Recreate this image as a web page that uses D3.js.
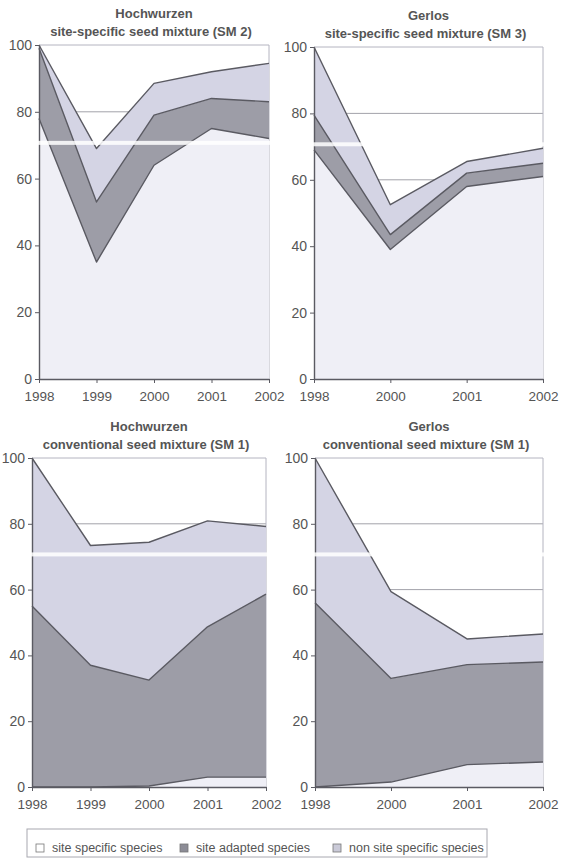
<!DOCTYPE html>
<html>
<head>
<meta charset="utf-8">
<script src="https://cdn.jsdelivr.net/npm/d3@7"></script>
<style>
  body { margin: 0; background: #fff; }
  svg { display: block; font-family: "Liberation Sans", Arial, sans-serif; }
  .tick text { fill: #555; }
  .title { fill: #555; font-weight: bold; font-size: 13px; text-anchor: middle; }
</style>
</head>
<body>
<svg id="chart" width="562" height="860"></svg>
<script>
// Species composition (% cover share) per year

const yearsHoch = ["1998", "1999", "2000", "2001", "2002"];
const yearsGerlos = ["1998", "2000", "2001", "2002"];
const yTicks = [0, 20, 40, 60, 80, 100];
const seriesNames = ["site specific species", "site adapted species", "non site specific species"];

// Hochwurzen, site-specific seed mixture (SM 2)
const hochSM2Specific = [78, 35, 64, 75, 72];
const hochSM2Adapted = [21, 18, 15, 9, 11];
const hochSM2Non = [1, 16, 9.5, 8, 11.5];

// Gerlos, site-specific seed mixture (SM 3)
const gerSM3Specific = [69, 39, 58, 61];
const gerSM3Adapted = [10.5, 4.5, 4, 4];
const gerSM3Non = [20.5, 9, 3.5, 4.5];

// Hochwurzen, conventional seed mixture (SM 1)
const hochSM1Specific = [0, 0, 0.3, 3, 3];
const hochSM1Adapted = [55, 37, 32.2, 45.7, 55.6];
const hochSM1Non = [45, 36.4, 41.9, 32.2, 20.6];

// Gerlos, conventional seed mixture (SM 1)
const gerSM1Specific = [0, 1.5, 6.8, 7.6];
const gerSM1Adapted = [56, 31.5, 30.4, 30.4];
const gerSM1Non = [44, 26.4, 7.8, 8.5];

const colors = ["#efeff6", "#9d9da7", "#d4d4e4"];
const lineColor = "#5a5a62";

const panels = [
  { title: ["Hochwurzen", "site-specific seed mixture (SM 2)"], years: yearsHoch,
    values: [hochSM2Specific, hochSM2Adapted, hochSM2Non],
    x0: 39, x1: 269, top: 45, bottom: 379, bandX: [36, 271] },
  { title: ["Gerlos", "site-specific seed mixture (SM 3)"], years: yearsGerlos,
    values: [gerSM3Specific, gerSM3Adapted, gerSM3Non],
    x0: 314, x1: 543, top: 47, bottom: 379, bandX: [311, 548] },
  { title: ["Hochwurzen", "conventional seed mixture (SM 1)"], years: yearsHoch,
    values: [hochSM1Specific, hochSM1Adapted, hochSM1Non],
    x0: 32, x1: 266, top: 458, bottom: 787, bandX: [0, 290] },
  { title: ["Gerlos", "conventional seed mixture (SM 1)"], years: yearsGerlos,
    values: [gerSM1Specific, gerSM1Adapted, gerSM1Non],
    x0: 315, x1: 543, top: 458, bottom: 787, bandX: [290, 562] }
];

const svg = d3.select("#chart");

panels.forEach(p => {
  const g = svg.append("g");

  const x = d3.scalePoint().domain(p.years).range([p.x0, p.x1]);
  const y = d3.scaleLinear().domain([0, 100]).range([p.bottom, p.top]);

  const rows = p.years.map((yr, i) => ({
    year: yr, s0: p.values[0][i], s1: p.values[1][i], s2: p.values[2][i]
  }));
  const stacked = d3.stack().keys(["s0", "s1", "s2"])(rows);

  // grid + plot border
  g.selectAll(".grid")
    .data(yTicks.filter(t => t > 0 && t < 100))
    .enter().append("line")
    .attr("x1", p.x0).attr("x2", p.x1)
    .attr("y1", d => y(d)).attr("y2", d => y(d))
    .attr("stroke", "#8a8a94").attr("stroke-width", 0.8);

  g.append("path")
    .attr("d", `M${p.x0},${y(100)}H${p.x1}V${y(0)}`)
    .attr("fill", "none").attr("stroke", "#b4b4c0").attr("stroke-width", 1);

  const area = d3.area()
    .x(d => x(d.data.year))
    .y0(d => y(d[0]))
    .y1(d => y(d[1]));

  g.selectAll(".layer")
    .data(stacked)
    .enter().append("path")
    .attr("d", area)
    .attr("fill", (d, i) => colors[i]);

  const edge = d3.line()
    .x(d => x(d.data.year))
    .y(d => y(d[1]));

  g.selectAll(".edge")
    .data(stacked)
    .enter().append("path")
    .attr("d", edge)
    .attr("fill", "none")
    .attr("stroke", lineColor)
    .attr("stroke-width", 1.4)
    .attr("stroke-linejoin", "round");

  // axes
  const yAxis = g.append("g")
    .attr("transform", `translate(${p.x0},0)`)
    .call(d3.axisLeft(y).tickValues(yTicks).tickSize(4).tickSizeOuter(0).tickPadding(3));
  yAxis.selectAll("text").attr("font-size", 14).attr("font-family", null);

  const xAxis = g.append("g")
    .attr("transform", `translate(0,${p.bottom})`)
    .call(d3.axisBottom(x).tickSize(4).tickSizeOuter(0).tickPadding(8));
  xAxis.selectAll("text").attr("font-size", 13.5).attr("font-family", null);

  [yAxis, xAxis].forEach(a => {
    a.select(".domain").attr("stroke", lineColor).attr("stroke-width", 1.4);
    a.selectAll(".tick line").attr("stroke", lineColor);
  });

  // pale scan streak across the panel
  g.append("rect")
    .attr("x", p.bandX[0]).attr("width", p.bandX[1] - p.bandX[0])
    .attr("y", y(71.3)).attr("height", 4)
    .attr("fill", "#fff").attr("opacity", 0.85);

  const cx = (p.x0 + p.x1) / 2;
  g.append("text").attr("class", "title")
    .attr("x", cx).attr("y", p.top - 27).text(p.title[0]);
  g.append("text").attr("class", "title")
    .attr("x", cx - 3).attr("y", p.top - 9).text(p.title[1]);
});

// legend
const legend = svg.append("g");
legend.append("rect")
  .attr("x", 27).attr("y", 829).attr("width", 460).attr("height", 28)
  .attr("fill", "#fff").attr("stroke", "#a8a8b0").attr("stroke-width", 1);

const legendX = d3.scaleOrdinal().domain(seriesNames).range([36, 180, 333]);
const swatch = ["#ffffff", "#8c8c96", "#cacad8"];

seriesNames.forEach((name, i) => {
  legend.append("rect")
    .attr("x", legendX(name)).attr("y", 844).attr("width", 8).attr("height", 8)
    .attr("fill", swatch[i]).attr("stroke", "#777").attr("stroke-width", 0.8);
  legend.append("text")
    .attr("x", legendX(name) + 16).attr("y", 852)
    .attr("font-size", 12.5).attr("fill", "#555")
    .text(name);
});
</script>
</body>
</html>
